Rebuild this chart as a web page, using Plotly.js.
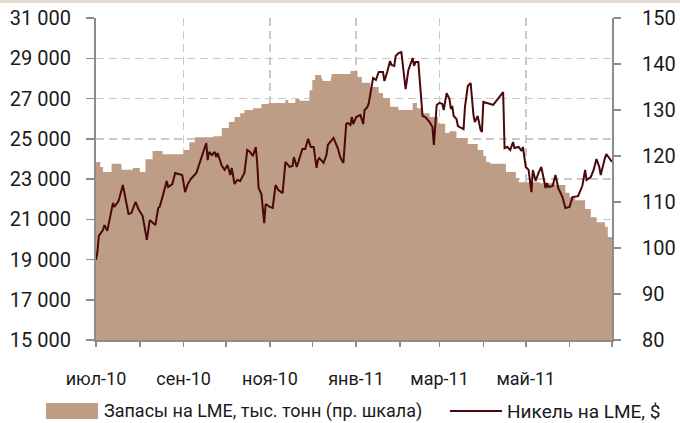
<!DOCTYPE html>
<html>
<head>
<meta charset="utf-8">
<script src="https://cdn.plot.ly/plotly-3.0.1.min.js"></script>
<style>
  html, body { margin: 0; padding: 0; background: #ffffff; }
  #wrap { position: relative; width: 680px; height: 423px; }
  #chart { width: 680px; height: 423px; }
  #band { position: absolute; left: 0; top: 0; width: 680px; height: 3px; background: #e6dcd3; z-index: 5; }
</style>
</head>
<body>
<div id="wrap"><div id="chart"></div><div id="band"></div></div>
<script>
// LME nickel stocks, thousand tonnes (right scale); null marks days without data
const stockDates = [
  '2010-07-01','2010-07-04','2010-07-06','2010-07-12','2010-07-19','2010-07-27',
  '2010-08-01','2010-08-05','2010-08-10','2010-08-17','2010-09-01','2010-09-05',
  '2010-09-09','2010-09-22','2010-09-28','2010-10-03','2010-10-07','2010-10-11',
  '2010-10-14','2010-10-20','2010-10-26','2010-10-31','2010-11-12','2010-11-14',
  '2010-11-19','2010-11-22','2010-11-29','2010-12-01','2010-12-03','2010-12-07',
  '2010-12-07 12:00','2010-12-08 12:00','2010-12-14','2010-12-14 06:00','2010-12-14 18:00',
  '2010-12-28','2011-01-02','2011-01-05','2011-01-11','2011-01-17','2011-01-20',
  '2011-01-25','2011-01-31','2011-02-10','2011-02-13','2011-02-17','2011-02-22',
  '2011-02-28','2011-03-05','2011-03-08','2011-03-13','2011-03-21','2011-03-28',
  '2011-04-01','2011-04-03','2011-04-05','2011-04-05 12:00','2011-04-06 10:00',
  '2011-04-12','2011-04-12 06:00','2011-04-12 18:00','2011-04-17','2011-04-24',
  '2011-04-26','2011-05-11','2011-05-22','2011-05-29','2011-06-01','2011-06-05',
  '2011-06-12','2011-06-16','2011-06-20','2011-06-26','2011-06-28','2011-07-01'
];
const stockValues = [
  118.7, 117.6, 116.5, 118.3, 117.0, 117.4,
  116.5, 119.3, 121.1, 120.4, 121.3, 123.0,
  124.1, 124.3, 126.1, 127.4, 128.5, 129.3,
  130.0, 130.4, 131.3, 131.5, 132.2, 131.5,
  132.4, 132.0, 134.3, 136.5, 137.6, 137.6,
  null, 136.3, 136.3, null, 137.8,
  138.5, 137.2, 135.9, 135.0, 133.7, 132.6,
  130.7, 130.0, 131.5, 130.4, 129.3, 128.5,
  127.0, 125.0, 125.4, 123.9, 122.6, 121.3,
  120.0, 118.7, 118.7, null, 118.3,
  118.3, null, 118.3, 116.5, 115.2,
  114.3, 114.1, 113.7, 112.0, 111.1, 110.4,
  108.5, 106.7, 105.6, 104.6, 102.4, 102.4
];

// LME nickel price, $ per tonne (left scale)
const priceDates = [
  '2010-07-01','2010-07-02','2010-07-03','2010-07-06','2010-07-07','2010-07-09',
  '2010-07-13','2010-07-14','2010-07-17','2010-07-20','2010-07-24','2010-07-26',
  '2010-07-29','2010-07-31','2010-08-03','2010-08-06','2010-08-08','2010-08-12',
  '2010-08-14','2010-08-15','2010-08-17','2010-08-20','2010-08-21','2010-08-24',
  '2010-08-26','2010-08-31','2010-09-02','2010-09-04','2010-09-06','2010-09-10',
  '2010-09-13','2010-09-15','2010-09-17','2010-09-18','2010-09-19','2010-09-21',
  '2010-09-23','2010-09-24','2010-09-25','2010-09-28','2010-09-30','2010-10-02',
  '2010-10-04','2010-10-05','2010-10-07','2010-10-09','2010-10-11','2010-10-14',
  '2010-10-16','2010-10-18','2010-10-20','2010-10-22','2010-10-23','2010-10-24',
  '2010-10-26','2010-10-28','2010-10-29','2010-11-01','2010-11-03','2010-11-05',
  '2010-11-07','2010-11-10','2010-11-11','2010-11-12','2010-11-15','2010-11-17',
  '2010-11-18','2010-11-20','2010-11-22','2010-11-24','2010-11-26','2010-11-28',
  '2010-11-30','2010-12-02','2010-12-04','2010-12-05','2010-12-06','2010-12-09',
  '2010-12-11','2010-12-12','2010-12-16','2010-12-19','2010-12-21','2010-12-23',
  '2010-12-25','2010-12-26','2010-12-28','2010-12-29','2010-12-30','2011-01-01',
  '2011-01-04','2011-01-06','2011-01-07','2011-01-09','2011-01-10','2011-01-11',
  '2011-01-13','2011-01-15','2011-01-17','2011-01-20','2011-01-21','2011-01-23',
  '2011-01-25','2011-01-26','2011-01-28','2011-01-29','2011-01-31','2011-02-02',
  '2011-02-05','2011-02-07','2011-02-10','2011-02-11','2011-02-12','2011-02-14',
  '2011-02-17','2011-02-19','2011-02-22','2011-02-24','2011-02-25','2011-02-27',
  '2011-03-01','2011-03-03','2011-03-04','2011-03-06','2011-03-08','2011-03-09',
  '2011-03-10','2011-03-11','2011-03-13','2011-03-14','2011-03-18','2011-03-19',
  '2011-03-21','2011-03-23','2011-03-25','2011-03-26','2011-03-28','2011-03-30',
  '2011-03-31','2011-04-01','2011-04-04','2011-04-08','2011-04-15','2011-04-16',
  '2011-04-18','2011-04-20','2011-04-22','2011-04-23','2011-04-26','2011-04-28',
  '2011-04-29','2011-04-30','2011-05-01','2011-05-03','2011-05-04','2011-05-05',
  '2011-05-06','2011-05-08','2011-05-10','2011-05-12','2011-05-15','2011-05-16',
  '2011-05-17','2011-05-20','2011-05-22','2011-05-24','2011-05-27','2011-05-29',
  '2011-06-01','2011-06-03','2011-06-07','2011-06-10','2011-06-12','2011-06-13',
  '2011-06-16','2011-06-18','2011-06-20','2011-06-22','2011-06-23','2011-06-25',
  '2011-06-26','2011-06-27','2011-06-30','2011-07-01'
];
const priceValues = [
  18980, 19370, 20170, 20470, 20710, 20420,
  21810, 21610, 21910, 22700, 21260, 21310,
  21860, 21510, 21160, 19970, 20960, 20710,
  21560, 21610, 22100, 22900, 22600, 22750,
  23300, 23200, 22350, 22750, 23000, 23300,
  23940, 24340, 24790, 23940, 24340, 24190,
  24340, 24090, 24290, 23650, 23450, 23700,
  23200, 23550, 22750, 22950, 22900, 23300,
  24440, 24340, 24140, 24590, 23850, 22550,
  22250, 20810, 21760, 21610, 21560, 22700,
  22450, 22300, 23100, 23850, 23600, 23650,
  24090, 23600, 24040, 24490, 24490, 24990,
  24590, 24590, 23550, 23940, 24040, 23800,
  24190, 24690, 25040, 24540, 24040, 23800,
  25730, 25780, 25680, 26080, 25730, 26080,
  26180, 25730, 26430, 26580, 26780, 27270,
  28020, 27920, 28320, 28320, 27870, 28320,
  28860, 28670, 28620, 29110, 29260, 29310,
  27470, 28420, 29010, 28620, 28810, 28810,
  26130, 26080, 25830, 25580, 24690, 26680,
  26780, 26730, 26430, 27270, 26980, 26480,
  26630, 26130, 25980, 25630, 25480, 26580,
  27620, 27770, 26180, 25830, 26130, 25440,
  25340, 26830, 26780, 26680, 27320, 24540,
  24590, 24440, 24840, 24540, 24590, 24390,
  24590, 24090, 23600, 23450, 22900, 22350,
  23450, 22900, 23300, 23600, 22550, 22800,
  22600, 22650, 23200, 22550, 22100, 21560,
  21610, 22100, 22150, 22650, 23450, 22950,
  23100, 23450, 23990, 23600, 23200, 23850,
  24040, 24240, 23990, 23850
];

// Axis ticks and labels
const monthTicks = [
  '2010-07-01','2010-08-01','2010-09-01','2010-10-01','2010-11-01','2010-12-01',
  '2011-01-01','2011-02-01','2011-03-01','2011-04-01','2011-05-01','2011-06-01','2011-07-01'
];
const labelDates = ['2010-07-01','2010-09-01','2010-11-01','2011-01-01','2011-03-01','2011-05-01'];
const labelTexts = ['июл-10','сен-10','ноя-10','янв-11','мар-11','май-11'];
const priceTicks = [15000, 17000, 19000, 21000, 23000, 25000, 27000, 29000, 31000];
const stockTicks = [80, 90, 100, 110, 120, 130, 140, 150];

const seriesNames = ['Запасы на LME, тыс. тонн (пр. шкала)', 'Никель на LME, $'];

const FONT = 'Roboto, Liberation Sans, sans-serif';
const TXT = '#1a1a1a';
const AXIS = '#8c8c8c';
const GRID = '#c9c9c9';
const TAN = '#bd9d85';
const WINE = '#4a0808';

const spaced = v => String(v).replace(/\B(?=(\d{3})+(?!\d))/g, ' ');

const stocksTrace = {
  type: 'scatter', mode: 'lines', name: seriesNames[0],
  x: stockDates, y: stockValues, xaxis: 'x', yaxis: 'y',
  line: { shape: 'hv', width: 0, color: TAN },
  fill: 'tozeroy', fillcolor: TAN, connectgaps: false,
  hoverinfo: 'skip', showlegend: false
};
const priceTrace = {
  type: 'scatter', mode: 'lines', name: seriesNames[1],
  x: priceDates, y: priceValues, xaxis: 'x', yaxis: 'y2',
  line: { width: 2, color: WINE },
  hoverinfo: 'skip', showlegend: false
};

// page-pixel to paper helpers for the legend block under the plot
const PL = 96, PR = 612, PT = 18, PB = 340;
const px = v => (v - PL) / (PR - PL);
const py = v => (PB - v) / (PB - PT);

const layout = {
  width: 680, height: 423,
  margin: { l: PL, r: 680 - PR, t: PT, b: 423 - PB },
  paper_bgcolor: '#ffffff', plot_bgcolor: '#ffffff',
  font: { family: FONT, size: 19, color: TXT },
  showlegend: false,
  xaxis: {
    type: 'date', range: ['2010-07-01', '2011-07-01'],
    tickmode: 'array', tickvals: labelDates, ticktext: labelTexts,
    tickfont: { size: 18 },
    ticks: 'outside', ticklen: 5, tickwidth: 1.5, tickcolor: AXIS,
    ticklabelstandoff: 16,
    showline: true, linecolor: AXIS, linewidth: 2,
    showgrid: true, gridcolor: GRID, gridwidth: 1.5, griddash: '8px,5px',
    minor: { tickmode: 'array', tickvals: monthTicks, ticks: 'outside', ticklen: 5,
             tickwidth: 1.5, tickcolor: AXIS, showgrid: false },
    zeroline: false, fixedrange: true
  },
  yaxis: {
    side: 'right', range: [80, 150],
    tickmode: 'array', tickvals: stockTicks, ticktext: stockTicks.map(String),
    tickfont: { size: 20 },
    ticks: 'outside', ticklen: 7, tickwidth: 1.5, tickcolor: AXIS,
    ticklabelstandoff: 17,
    showline: true, linecolor: AXIS, linewidth: 2,
    showgrid: false, zeroline: false, fixedrange: true
  },
  yaxis2: {
    overlaying: 'y', side: 'left', range: [15000, 31000],
    tickmode: 'array', tickvals: priceTicks, ticktext: priceTicks.map(spaced),
    tickfont: { size: 20 },
    ticks: 'outside', ticklen: 8, tickwidth: 1.5, tickcolor: AXIS,
    ticklabelstandoff: 11,
    showline: true, linecolor: AXIS, linewidth: 2,
    showgrid: true, gridcolor: GRID, gridwidth: 1.5, griddash: '8px,5px',
    zeroline: false, fixedrange: true
  },
  shapes: [
    { type: 'rect', xref: 'paper', yref: 'paper',
      x0: px(46), x1: px(98), y0: py(419), y1: py(403),
      fillcolor: TAN, line: { width: 0 } },
    { type: 'line', xref: 'paper', yref: 'paper',
      x0: px(450), x1: px(502), y0: py(411), y1: py(411),
      line: { color: WINE, width: 2 } }
  ],
  annotations: [
    { xref: 'paper', yref: 'paper', x: px(102), y: py(411), xanchor: 'left', yanchor: 'middle',
      text: seriesNames[0], showarrow: false, font: { family: FONT, size: 18, color: TXT } },
    { xref: 'paper', yref: 'paper', x: px(505), y: py(411), xanchor: 'left', yanchor: 'middle',
      text: seriesNames[1], showarrow: false, font: { family: FONT, size: 19, color: TXT } }
  ]
};

Plotly.newPlot('chart', [stocksTrace, priceTrace], layout, { staticPlot: true, displayModeBar: false });
</script>
</body>
</html>
